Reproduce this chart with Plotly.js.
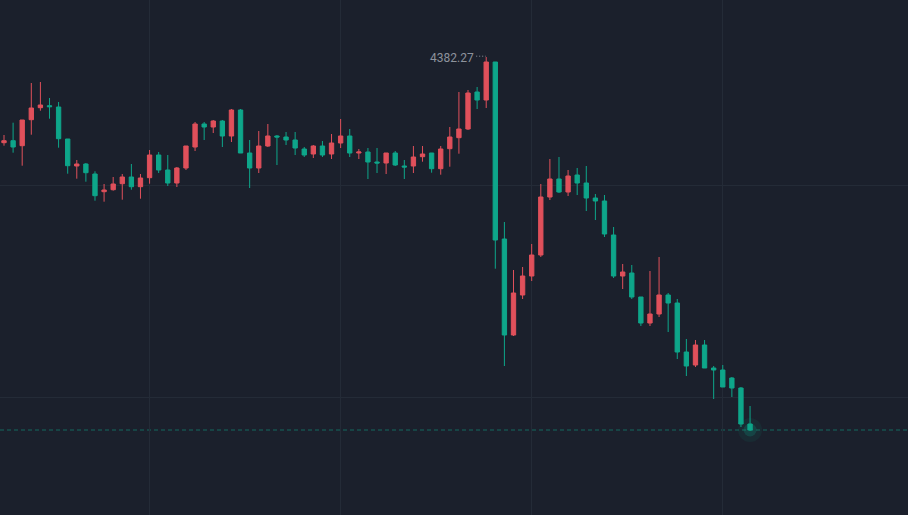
<!DOCTYPE html>
<html>
<head>
<meta charset="utf-8">
<script src="https://cdn.plot.ly/plotly-3.0.1.min.js"></script>
<style>
  html, body { margin: 0; padding: 0; background: #1b202c; }
  #chart { width: 908px; height: 515px; }
</style>
</head>
<body>
<div id="chart"></div>
<script>
// Daily OHLC values
const openV = [
  4296.57, 4298.57, 4293.57, 4319.57, 4331.57, 4333.57, 4332.27, 4300.27, 4273.27, 4275.27,
  4265.27, 4247.57, 4249.57, 4255.57, 4262.27, 4252.57, 4261.57, 4284.27, 4269.27, 4256.27,
  4271.27, 4292.27, 4315.27, 4312.27, 4318.27, 4303.27, 4329.27, 4286.27, 4271.27, 4293.27,
  4303.27, 4302.27, 4299.27, 4290.27, 4285.27, 4293.27, 4285.27, 4296.27, 4303.27, 4286.27,
  4287.27, 4277.27, 4276.27, 4286.27, 4273.27, 4273.27, 4282.57, 4286.27, 4270.57, 4290.57,
  4301.57, 4310.27, 4347.27, 4339.27, 4377.27, 4200.27, 4104.27, 4144.27, 4163.27, 4184.27,
  4242.27, 4260.27, 4247.27, 4264.27, 4256.27, 4241.27, 4238.27, 4204.27, 4163.27, 4166.27,
  4142.27, 4116.27, 4125.27, 4144.27, 4136.27, 4087.27, 4074.27, 4094.27, 4071.27, 4069.27,
  4061.27, 4051.27, 4015.27
];
const highV = [
  4304.27, 4316.57, 4319.27, 4356.27, 4357.27, 4341.27, 4337.27, 4300.27, 4279.27, 4276.27,
  4267.97, 4255.27, 4262.27, 4265.27, 4275.27, 4265.27, 4289.27, 4287.27, 4284.27, 4272.27,
  4293.27, 4317.27, 4317.27, 4319.27, 4319.27, 4330.27, 4330.27, 4299.27, 4308.27, 4315.27,
  4304.27, 4307.27, 4307.27, 4292.27, 4294.27, 4298.27, 4305.27, 4320.27, 4310.27, 4290.27,
  4291.27, 4291.27, 4286.27, 4288.27, 4279.27, 4293.27, 4293.27, 4286.27, 4293.27, 4312.27,
  4347.27, 4349.27, 4352.27, 4382.27, 4377.27, 4217.27, 4169.27, 4172.27, 4195.27, 4255.27,
  4280.27, 4282.27, 4269.27, 4271.27, 4273.27, 4245.27, 4244.27, 4212.27, 4175.27, 4174.27,
  4142.27, 4168.27, 4182.27, 4146.27, 4140.27, 4100.27, 4099.27, 4099.27, 4073.27, 4074.27,
  4062.27, 4052.27, 4033.27
];
const lowV = [
  4293.57, 4286.57, 4273.57, 4304.57, 4328.57, 4320.57, 4291.57, 4265.57, 4260.57, 4257.57,
  4238.57, 4237.57, 4248.57, 4239.57, 4249.57, 4240.57, 4255.57, 4266.27, 4253.27, 4252.27,
  4269.27, 4288.27, 4299.27, 4306.27, 4292.27, 4297.27, 4286.27, 4251.27, 4266.27, 4292.27,
  4274.27, 4294.27, 4284.27, 4282.27, 4281.27, 4282.27, 4280.27, 4291.27, 4282.27, 4280.27,
  4260.27, 4266.27, 4265.27, 4273.27, 4260.27, 4266.27, 4277.57, 4266.57, 4264.57, 4272.57,
  4285.57, 4309.27, 4330.27, 4331.27, 4170.57, 4073.27, 4103.27, 4140.27, 4158.27, 4182.27,
  4239.27, 4246.27, 4243.27, 4244.27, 4228.27, 4219.27, 4202.27, 4161.27, 4150.27, 4140.27,
  4113.27, 4113.27, 4122.27, 4107.27, 4080.27, 4063.27, 4072.27, 4071.27, 4040.27, 4052.27,
  4042.27, 4012.27, 4008.27
];
const closeV = [
  4298.57, 4292.27, 4319.27, 4331.27, 4334.27, 4332.57, 4300.57, 4273.57, 4275.27, 4266.57,
  4243.57, 4249.27, 4255.27, 4262.27, 4252.57, 4261.27, 4284.27, 4269.27, 4256.27, 4271.27,
  4293.27, 4315.27, 4312.27, 4318.27, 4303.27, 4329.27, 4286.27, 4271.27, 4293.27, 4303.27,
  4302.27, 4299.27, 4291.27, 4284.27, 4293.27, 4284.27, 4296.27, 4303.27, 4286.27, 4287.27,
  4277.27, 4276.27, 4286.27, 4274.27, 4272.27, 4282.27, 4285.27, 4270.57, 4290.27, 4302.27,
  4310.27, 4346.27, 4339.27, 4377.27, 4199.27, 4104.27, 4146.27, 4163.27, 4184.27, 4242.27,
  4260.27, 4247.27, 4263.27, 4256.27, 4241.27, 4238.27, 4205.27, 4163.27, 4167.27, 4142.27,
  4116.27, 4125.27, 4144.27, 4136.27, 4087.27, 4073.27, 4094.27, 4071.27, 4069.27, 4052.27,
  4051.27, 4015.27, 4009.27
];
// Month boundaries (bar index) used for the vertical grid
const monthStarts = [16, 37, 58, 79];
const priceGrid = [4254, 4042];

const UP = '#e0505b';
const DOWN = '#0ea68a';
const BG = '#1b202c';
const GRID = '#242b37';

const xIdx = openV.map((_, i) => i);

// peak marker
let peakIdx = 0;
highV.forEach((h, i) => { if (h > highV[peakIdx]) peakIdx = i; });
const peakVal = highV[peakIdx];
const lastIdx = closeV.length - 1;
const lastClose = closeV[lastIdx];

const candles = {
  type: 'candlestick',
  x: xIdx, open: openV, high: highV, low: lowV, close: closeV,
  increasing: { line: { color: UP, width: 1 }, fillcolor: UP },
  decreasing: { line: { color: DOWN, width: 1 }, fillcolor: DOWN },
  whiskerwidth: 0,
  hoverinfo: 'none',
  showlegend: false
};

const glow = {
  type: 'scatter', mode: 'markers',
  x: [lastIdx, lastIdx], y: [lastClose, lastClose],
  marker: { size: [24, 13], color: ['rgba(14,166,138,0.12)', 'rgba(14,166,138,0.3)'], line: { width: 0 } },
  hoverinfo: 'none', showlegend: false
};

const layout = {
  width: 908, height: 515,
  margin: { l: 0, r: 0, t: 0, b: 0, pad: 0 },
  paper_bgcolor: BG, plot_bgcolor: BG,
  showlegend: false,
  boxgap: 0.32,
  xaxis: {
    range: [-0.44, 99.36],
    showticklabels: false, zeroline: false, showline: false,
    tickmode: 'array', tickvals: monthStarts, ticks: '',
    showgrid: true, gridcolor: GRID, gridwidth: 1,
    rangeslider: { visible: false }, fixedrange: true
  },
  yaxis: {
    range: [3924.27, 4439.27],
    showticklabels: false, zeroline: false, showline: false,
    tickmode: 'array', tickvals: priceGrid, ticks: '',
    showgrid: true, gridcolor: GRID, gridwidth: 1, fixedrange: true
  },
  shapes: [
    { type: 'line', xref: 'paper', x0: 0, x1: 1, yref: 'y', y0: lastClose, y1: lastClose,
      line: { color: 'rgba(14,166,138,0.55)', width: 1, dash: '4px,3px' }, layer: 'below' },
    { type: 'line', xref: 'x', yref: 'y', x0: peakIdx - 1.1, x1: peakIdx - 0.05,
      y0: peakVal + 0.8, y1: peakVal + 0.8,
      line: { color: '#8d929c', width: 1, dash: '1px,2px' } }
  ],
  annotations: [
    { x: peakIdx, y: peakVal, xref: 'x', yref: 'y', text: peakVal.toFixed(2),
      showarrow: false, xanchor: 'right', yanchor: 'middle', xshift: -10, yshift: -1,
      font: { family: 'Roboto, sans-serif', size: 12, color: '#8d929c' } }
  ],
  hovermode: false
};

Plotly.newPlot('chart', [candles, glow], layout, { displayModeBar: false, staticPlot: true });
</script>
</body>
</html>
